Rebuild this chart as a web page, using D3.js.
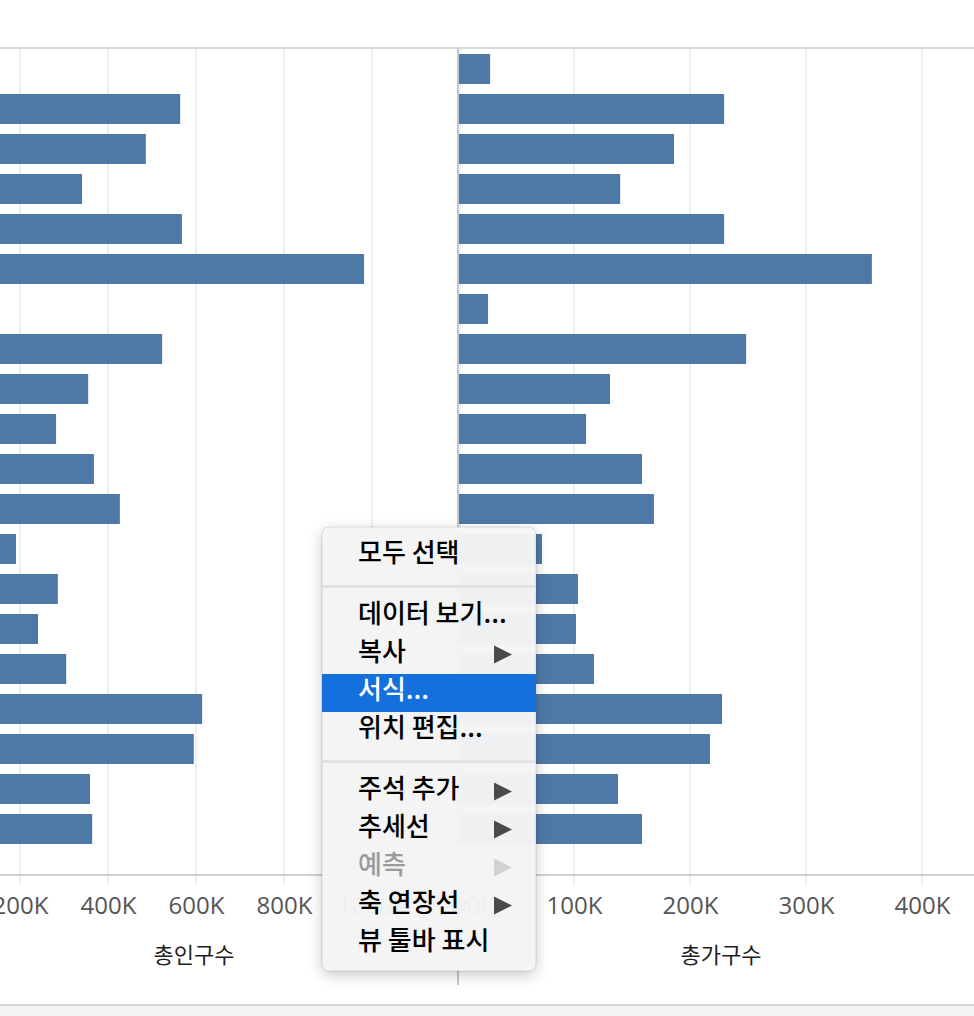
<!DOCTYPE html>
<html>
<head>
<meta charset="utf-8">
<script src="https://cdn.jsdelivr.net/npm/d3@7"></script>
<style>
  html, body { margin: 0; padding: 0; background: #fff; }
  svg { display: block; }
  .tick-label { font-family: "Open Sans", sans-serif; font-size: 24px; fill: #555; }
  .axis-title { font-family: "Noto Sans CJK KR", sans-serif; font-size: 22px; fill: #1e1e1e; }
  .menu-item { font-family: "Noto Sans CJK KR", sans-serif; font-size: 26px; font-weight: 500; }
</style>
</head>
<body>
<svg id="chart" width="974" height="1016"></svg>
<script>
// Row names are cut off in the picture, so the categories are placeholders
const categories = d3.range(1, 21).map(i => '지역 ' + i);

// 총인구수 per row (the 1st and 7th bars end left of the visible area)
const population = [
  60000, 564000, 486000, 341000, 568000, 982000, 55000, 523000, 355000, 282000,
  368000, 427000, 191000, 286000, 241000, 305000, 614000, 595000, 359000, 364000
];

// 총가구수 per row
const households = [
  27700, 229400, 186200, 139800, 229400, 356800, 25900, 248400, 131000, 110400,
  158600, 168900, 72400, 103400, 101700, 117200, 227600, 217200, 137900, 158600
];

const popTicks = [0, 200000, 400000, 600000, 800000, 1000000, 1200000];
const hhTicks = [0, 100000, 200000, 300000, 400000];

const measureTitles = ['총인구수', '총가구수'];

// Context menu entries; null marks a separator
const menuItems = [
  { label: '모두 선택' },
  null,
  { label: '데이터 보기...' },
  { label: '복사', sub: true },
  { label: '서식...', active: true },
  { label: '위치 편집...' },
  null,
  { label: '주석 추가', sub: true },
  { label: '추세선', sub: true },
  { label: '예측', sub: true, disabled: true },
  { label: '축 연장선', sub: true },
  { label: '뷰 툴바 표시' }
];

const W = 974, H = 1016;
const plotTop = 48, axisY = 875, divider = 458;
const barColor = '#4e79a7';
const fmtK = d => (d / 1000) + 'K';

const svg = d3.select('#chart');

// Bottom strip
svg.append('rect').attr('x', 0).attr('y', 1005).attr('width', W).attr('height', H - 1005).attr('fill', '#f3f3f3');
svg.append('line').attr('x1', 0).attr('x2', W).attr('y1', 1005).attr('y2', 1005)
  .attr('stroke', '#d4d4d4').attr('stroke-width', 2);

const yScale = d3.scaleBand()
  .domain(categories)
  .range([plotTop + 1, plotTop + 1 + categories.length * 40])
  .paddingInner(0.25)
  .paddingOuter(0.125);

const panels = [
  {
    values: population,
    ticks: popTicks,
    x: d3.scaleLinear().domain([0, 1200000]).range([-68, 460]),
    titleX: 194
  },
  {
    values: households,
    ticks: hhTicks,
    x: d3.scaleLinear().domain([0, 450000]).range([divider, divider + 4.5 * 116]),
    titleX: 721
  }
];

panels.forEach((p, i) => {
  const g = svg.append('g').attr('class', 'panel-' + i);

  // Gridlines with their tick stubs below the axis
  g.selectAll('.grid')
    .data(p.ticks.filter(t => t > 0))
    .join('line')
      .attr('class', 'grid')
      .attr('x1', d => p.x(d)).attr('x2', d => p.x(d))
      .attr('y1', plotTop).attr('y2', axisY + 10)
      .attr('stroke', '#efefef')
      .attr('stroke-width', 2);

  g.selectAll('.bar')
    .data(p.values)
    .join('rect')
      .attr('class', 'bar')
      .attr('x', p.x(0))
      .attr('y', (d, j) => yScale(categories[j]))
      .attr('width', d => p.x(d) - p.x(0))
      .attr('height', yScale.bandwidth())
      .attr('fill', barColor);

  // Axis from d3, then restyled to look like Tableau
  const axis = d3.axisBottom(p.x)
    .tickValues(p.ticks)
    .tickFormat(fmtK)
    .tickSize(0)
    .tickPadding(22);
  const axisG = g.append('g')
    .attr('transform', `translate(0,${axisY})`)
    .call(axis);
  axisG.select('.domain').remove();
  axisG.selectAll('text')
    .attr('class', 'tick-label')
    .attr('font-size', null)
    .attr('font-family', null)
    .attr('fill', null);

  g.append('text')
    .attr('class', 'axis-title')
    .attr('x', p.titleX)
    .attr('y', 963)
    .attr('text-anchor', 'middle')
    .text(measureTitles[i]);
});

// Frame lines
svg.append('line').attr('x1', 0).attr('x2', W).attr('y1', plotTop).attr('y2', plotTop)
  .attr('stroke', '#cccccc').attr('stroke-width', 1.5);
svg.append('line').attr('x1', 0).attr('x2', W).attr('y1', axisY).attr('y2', axisY)
  .attr('stroke', '#cfcfcf').attr('stroke-width', 2);
svg.append('line').attr('x1', divider).attr('x2', divider).attr('y1', plotTop).attr('y2', 985)
  .attr('stroke', '#c8c8c8').attr('stroke-width', 2);

// ---- Context menu overlay ----
const defs = svg.append('defs');
const shadow = defs.append('filter').attr('id', 'menu-shadow')
  .attr('x', '-20%').attr('y', '-20%').attr('width', '140%').attr('height', '140%');
shadow.append('feDropShadow')
  .attr('dx', 0).attr('dy', 4).attr('stdDeviation', 7)
  .attr('flood-color', '#000').attr('flood-opacity', 0.22);

const menu = { x: 322, y: 527, w: 214, rowH: 38, sepH: 23, padTop: 10 };

// Work out row positions
let cursor = menu.y + menu.padTop;
const rows = menuItems.map(item => {
  const r = { item, y: cursor };
  cursor += item ? menu.rowH : menu.sepH;
  return r;
});
menu.h = cursor + 8 - menu.y;

const mg = svg.append('g').attr('class', 'context-menu');
mg.append('rect')
  .attr('x', menu.x).attr('y', menu.y)
  .attr('width', menu.w).attr('height', menu.h)
  .attr('rx', 7)
  .attr('fill', 'rgba(245,245,246,0.96)')
  .attr('stroke', 'rgba(0,0,0,0.12)')
  .attr('stroke-width', 1)
  .attr('filter', 'url(#menu-shadow)');

rows.filter(r => !r.item).forEach(r => {
  mg.append('rect')
    .attr('x', menu.x).attr('y', r.y + menu.sepH / 2 - 1.5)
    .attr('width', menu.w).attr('height', 3)
    .attr('fill', '#e2e2e2');
});

rows.filter(r => r.item).forEach(r => {
  const it = r.item;
  if (it.active) {
    mg.append('rect')
      .attr('x', menu.x).attr('y', r.y)
      .attr('width', menu.w).attr('height', menu.rowH)
      .attr('fill', '#1470dc');
  }
  const color = it.active ? '#fff' : it.disabled ? '#9b9b9b' : '#000';
  mg.append('text')
    .attr('class', 'menu-item')
    .attr('x', menu.x + 36)
    .attr('y', r.y + 25)
    .attr('fill', color)
    .text(it.label);
  if (it.sub) {
    const cy = r.y + menu.rowH / 2 - 0.5;
    const ax = menu.x + 172;
    mg.append('path')
      .attr('d', `M${ax},${cy - 9}L${ax + 18},${cy}L${ax},${cy + 9}Z`)
      .attr('fill', it.disabled ? '#d2d2d2' : '#4a4a4a');
  }
});
</script>
</body>
</html>
